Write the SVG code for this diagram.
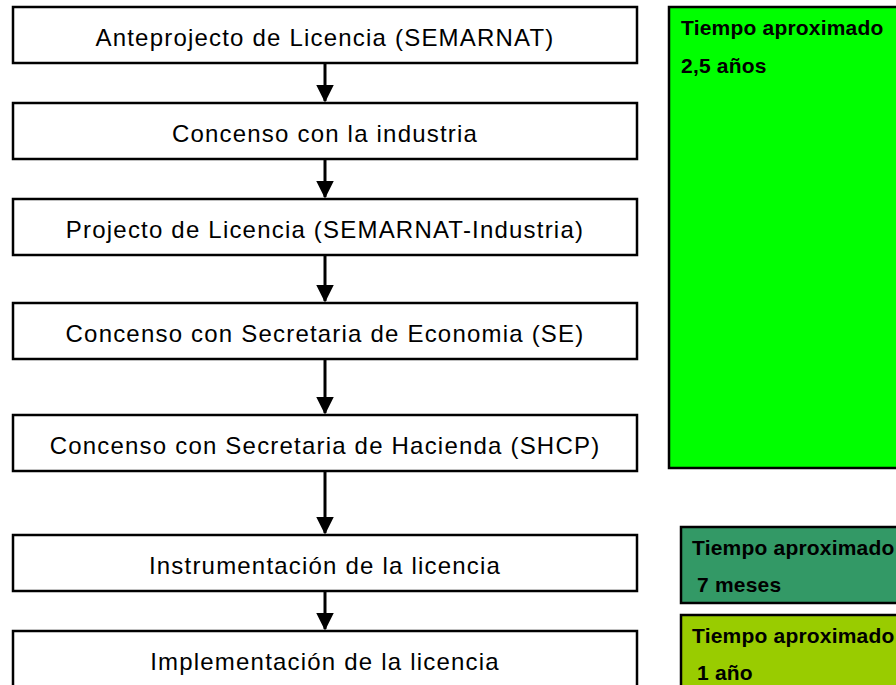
<svg xmlns="http://www.w3.org/2000/svg" width="896" height="685" viewBox="0 0 896 685">
<style>
.box{fill:#fff;stroke:#000;stroke-width:2.5}
.t{font-family:"Liberation Sans",Arial,sans-serif;font-size:24px;letter-spacing:1.2px;fill:#000;text-anchor:middle}
.b{font-family:"Liberation Sans",Arial,sans-serif;font-size:21px;letter-spacing:0.2px;font-weight:bold;fill:#000}
.c{stroke:#000;stroke-width:3;fill:none}
.note{stroke:#000;stroke-width:2.5}
</style>
<defs>
<marker id="ah" markerWidth="6" markerHeight="6" refX="5.5" refY="3" orient="auto" markerUnits="strokeWidth"><path d="M0,0 L6,3 L0,6 Z" fill="#000"/></marker>
</defs>
<rect width="896" height="685" fill="#fff"/>
<g id="connectors">
<line class="c" x1="325" y1="64" x2="325" y2="101" marker-end="url(#ah)"/>
<line class="c" x1="325" y1="160" x2="325" y2="197" marker-end="url(#ah)"/>
<line class="c" x1="325" y1="256" x2="325" y2="301" marker-end="url(#ah)"/>
<line class="c" x1="325" y1="360" x2="325" y2="413" marker-end="url(#ah)"/>
<line class="c" x1="325" y1="472" x2="325" y2="533" marker-end="url(#ah)"/>
<line class="c" x1="325" y1="592" x2="325" y2="629" marker-end="url(#ah)"/>
</g>
<g id="n1"><rect class="box" x="13" y="7" width="624" height="56"/><text class="t" x="325" y="46">Anteprojecto de Licencia (SEMARNAT)</text></g>
<g id="n2"><rect class="box" x="13" y="103" width="624" height="56"/><text class="t" x="325" y="142">Concenso con la industria</text></g>
<g id="n3"><rect class="box" x="13" y="199" width="624" height="56"/><text class="t" x="325" y="238">Projecto de Licencia (SEMARNAT-Industria)</text></g>
<g id="n4"><rect class="box" x="13" y="303" width="624" height="56"/><text class="t" x="325" y="342">Concenso con Secretaria de Economia (SE)</text></g>
<g id="n5"><rect class="box" x="13" y="415" width="624" height="56"/><text class="t" x="325" y="454">Concenso con Secretaria de Hacienda (SHCP)</text></g>
<g id="n6"><rect class="box" x="13" y="535" width="624" height="56"/><text class="t" x="325" y="574">Instrumentación de la licencia</text></g>
<g id="n7"><rect class="box" x="13" y="631" width="624" height="70"/><text class="t" x="325" y="670">Implementación de la licencia</text></g>
<g id="time1"><rect class="note" x="669" y="7" width="240" height="461" fill="#00ff00"/><text class="b" x="681" y="35">Tiempo aproximado</text><text class="b" x="681" y="73">2,5 años</text></g>
<g id="time2"><rect class="note" x="681" y="527" width="230" height="76" fill="#339966"/><text class="b" x="692" y="555">Tiempo aproximado</text><text class="b" x="697" y="592">7 meses</text></g>
<g id="time3"><rect class="note" x="681" y="615" width="230" height="80" fill="#99cc00"/><text class="b" x="692" y="643">Tiempo aproximado</text><text class="b" x="697" y="680">1 año</text></g>
</svg>
